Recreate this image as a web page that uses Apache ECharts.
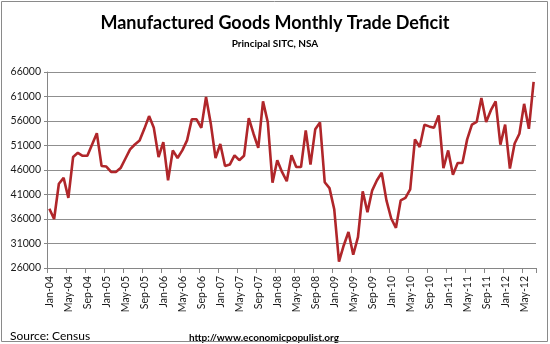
<!DOCTYPE html>
<html>
<head>
<meta charset="utf-8">
<script src="https://cdn.jsdelivr.net/npm/echarts@6/dist/echarts.min.js"></script>
<style>
html,body{margin:0;padding:0;background:#fff;}
#c{width:550px;height:344px;}
</style>
</head>
<body>
<div id="c"></div>
<script>
// Months Jan-04 .. Jul-12
const monthNames = ['Jan','Feb','Mar','Apr','May','Jun','Jul','Aug','Sep','Oct','Nov','Dec'];
const startYear = 2004, monthCount = 103;
const categories = [];
for (let i = 0; i < monthCount; i++) {
  const y = startYear + Math.floor(i / 12);
  categories.push(monthNames[i % 12] + '-' + String(y % 100).padStart(2, '0'));
}

// Manufactured goods trade deficit (millions $)
const deficit = [
  38100, 36000, 43200, 44400, 40300, 48650, 49500, 48900, 48900, 51200, 53500, 46800,
  46700, 45600, 45600, 46400, 48300, 50200, 51200, 52000, 54400, 57000, 54600, 48650,
  51700, 43900, 50000, 48450, 50000, 52050, 56350, 56350, 54600, 60900, 55450, 48450,
  51300, 46800, 47100, 49000, 48000, 48900, 56600, 53400, 50500, 60000, 55800, 43400,
  48000, 45600, 43700, 49000, 46600, 46600, 54100, 47100, 54300, 55700, 43500, 42300,
  38000, 27300, 30600, 33350, 28700, 32300, 41650, 37400, 41850, 43900, 45450, 39800,
  36100, 34200, 39800, 40300, 42050, 52250, 50700, 55250, 54900, 54600, 57150, 46400,
  50000, 45050, 47430, 47430, 52250, 55250, 55800, 60700, 55800, 58200, 60000, 51170,
  55250, 46300, 51400, 53400, 59500, 54400, 64000
];

const yMin = 26000, yMax = 66000, yStep = 5000;
const titleText = 'Manufactured Goods Monthly Trade Deficit';
const subtitleText = 'Principal SITC, NSA';
const sourceText = 'Source: Census';
const urlText = 'http://www.economicpopulist.org';

const chart = echarts.init(document.getElementById('c'), null, {renderer: 'canvas'});
chart.setOption({
  animation: false,
  backgroundColor: '#ffffff',
  textStyle: {fontFamily: 'Lato'},
  title: {
    text: titleText,
    subtext: subtitleText,
    left: 'center',
    top: 9,
    itemGap: 7,
    textStyle: {fontFamily: 'Lato', fontWeight: 'bold', fontSize: 18, color: '#000'},
    subtextStyle: {fontFamily: 'Lato', fontWeight: 'bold', fontSize: 10, color: '#000'}
  },
  grid: {left: 47, right: 14, top: 72, bottom: 76, containLabel: false},
  xAxis: {
    type: 'category',
    data: categories,
    boundaryGap: true,
    axisLine: {lineStyle: {color: '#868686', width: 1}},
    axisTick: {show: true, interval: 3, length: 5, lineStyle: {color: '#868686'}},
    axisLabel: {interval: 3, rotate: 90, fontSize: 10.5, color: '#1a1a1a', margin: 8, fontFamily: 'Lato'},
    splitLine: {show: false}
  },
  yAxis: {
    type: 'value',
    min: yMin,
    max: yMax,
    interval: yStep,
    axisLine: {show: true, lineStyle: {color: '#868686', width: 1}},
    axisTick: {show: true, length: 3, lineStyle: {color: '#868686'}},
    axisLabel: {fontSize: 10.5, color: '#1a1a1a', margin: 6, fontFamily: 'Lato', formatter: v => String(v)},
    splitLine: {show: true, lineStyle: {color: '#8f8f8f', width: 1}}
  },
  series: [{
    type: 'line',
    data: deficit,
    symbol: 'none',
    smooth: false,
    lineStyle: {color: '#B0262A', width: 2.6},
    itemStyle: {color: '#B0262A'}
  }],
  graphic: [
    {type: 'rect', shape: {x: 1.5, y: 1.5, width: 546, height: 340},
     style: {fill: 'none', stroke: '#8a8a8a', lineWidth: 1}, silent: true, z: 100},
    {type: 'text', left: 10, top: 330,
     style: {text: sourceText, font: '12px Lato', fill: '#000'}},
    {type: 'text', left: 189, top: 333,
     style: {text: urlText, font: 'bold 10px Lato', fill: '#000'}}
  ]
});
</script>
</body>
</html>
